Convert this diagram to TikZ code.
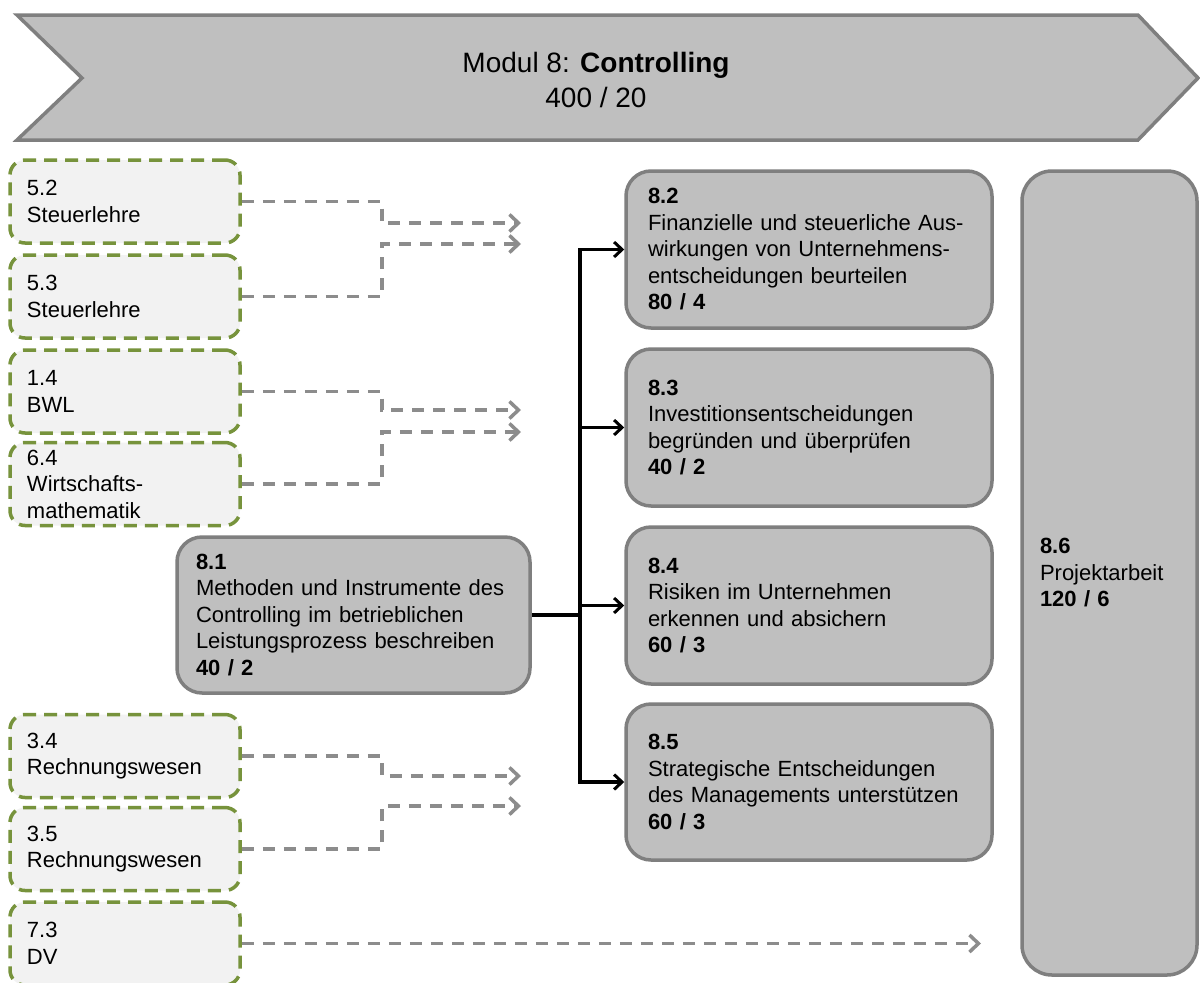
\documentclass[tikz,border=0pt]{standalone}
\usepackage{fontspec}
\setmainfont{Liberation Sans}
\usetikzlibrary{arrows.meta,positioning}

\definecolor{bannerfill}{HTML}{BFBFBF}
\definecolor{boxline}{HTML}{7F7F7F}
\definecolor{olive}{HTML}{77933C}
\definecolor{srcfill}{HTML}{F2F2F2}
\definecolor{deplink}{HTML}{8C8C8C}

\tikzset{
  txt/.style={font=\fontsize{22}{26.5}\selectfont, align=left, inner ysep=0pt},
  srcbox/.style={txt, draw=olive, fill=srcfill, line width=3.5pt,
    dash pattern=on 13pt off 8pt, rounded corners=15pt,
    text width=196pt, inner xsep=17pt, minimum height=83pt},
  unitbox/.style={txt, draw=boxline, fill=bannerfill, line width=3.5pt,
    rounded corners=25pt, inner xsep=22pt},
  dep/.style={draw=deplink, line width=3.5pt, dash pattern=on 12pt off 9pt,
    -{Straight Barb[length=9pt,width=17pt,line width=3.5pt]}},
  flow/.style={draw=black, line width=3.5pt},
  flowarrow/.style={flow, -{Straight Barb[length=8pt,width=15pt,line width=3pt]}},
}

\begin{document}
\begin{tikzpicture}[x=1pt,y=-1pt]
\useasboundingbox (0,0) rectangle (1200,983);
\fill[white] (0,0) rectangle (1200,983);

% module banner
\draw[fill=bannerfill, draw=boxline, line width=3.5pt, line join=miter]
  (17,15) -- (1138,15) -- (1198,78) -- (1138,140) -- (17,140) -- (82,78) -- cycle;
\node[font=\fontsize{28}{35}\selectfont, align=center] (banner) at (596,80)
  {Modul 8: \textbf{Controlling}\\400 / 20};

% prerequisite modules
\node[srcbox] (n52) at (125,201.5) {5.2\\Steuerlehre};
\node[srcbox] (n53) at (125,296.5) {5.3\\Steuerlehre};
\node[srcbox] (n14) at (125,391.5) {1.4\\BWL};
\node[srcbox] (n64) at (125,484) {6.4\\Wirtschafts-\\mathematik};
\node[srcbox] (n34) at (125,756) {3.4\\Rechnungswesen};
\node[srcbox] (n35) at (125,849) {3.5\\Rechnungswesen};
\node[srcbox] (n73) at (125,943.5) {7.3\\DV};

% units of the module
\node[unitbox, inner xsep=19pt, text width=315pt, minimum height=156pt] (n81) at (353.5,615)
  {\textbf{8.1}\\Methoden und Instrumente des\\Controlling im betrieblichen\\Leistungsprozess beschreiben\\\textbf{40 / 2}};
\node[unitbox, text width=322pt, minimum height=157pt] (n82) at (809,249.5)
  {\textbf{8.2}\\Finanzielle und steuerliche Aus-\\wirkungen von Unternehmens-\\entscheidungen beurteilen\\\textbf{80 / 4}};
\node[unitbox, text width=322pt, minimum height=157pt] (n83) at (809,427.5)
  {\textbf{8.3}\\Investitionsentscheidungen\\begründen und überprüfen\\\textbf{40 / 2}};
\node[unitbox, text width=322pt, minimum height=157pt] (n84) at (809,605.5)
  {\textbf{8.4}\\Risiken im Unternehmen\\erkennen und absichern\\\textbf{60 / 3}};
\node[unitbox, text width=322pt, minimum height=156pt] (n85) at (809,782)
  {\textbf{8.5}\\Strategische Entscheidungen\\des Managements unterstützen\\\textbf{60 / 3}};
\node[unitbox, rounded corners=30pt, inner xsep=18pt, text width=139pt,
  minimum height=804pt] (n86) at (1109.5,573)
  {\textbf{8.6}\\Projektarbeit\\\textbf{120 / 6}};

% open ends of the dependency arrows
\coordinate (t52) at (521,223);
\coordinate (t53) at (521,244);
\coordinate (t14) at (521,410);
\coordinate (t64) at (521,432);
\coordinate (t34) at (521,776);
\coordinate (t35) at (521,806);
\coordinate (t73) at (981,943.5);

\draw[dep] (n52.east) -- ++(140,0) |- (t52);
\draw[dep] (n53.east) -- ++(140,0) |- (t53);
\draw[dep] (n14.east) -- ++(140,0) |- (t14);
\draw[dep] (n64.east) -- ++(140,0) |- (t64);
\draw[dep] (n34.east) -- ++(140,0) |- (t34);
\draw[dep] (n35.east) -- ++(140,0) |- (t35);
\draw[dep] (n73.east) -- (t73);

% 8.1 feeds units 8.2 to 8.5
\draw[flow] (n81.east) -- ++(48,0) coordinate (hub);
\draw[flowarrow] (hub) |- (n82.west);
\draw[flowarrow] (hub) |- (n83.west);
\draw[flowarrow] (hub) |- (n84.west);
\draw[flowarrow] (hub) |- (n85.west);
\end{tikzpicture}
\end{document}
